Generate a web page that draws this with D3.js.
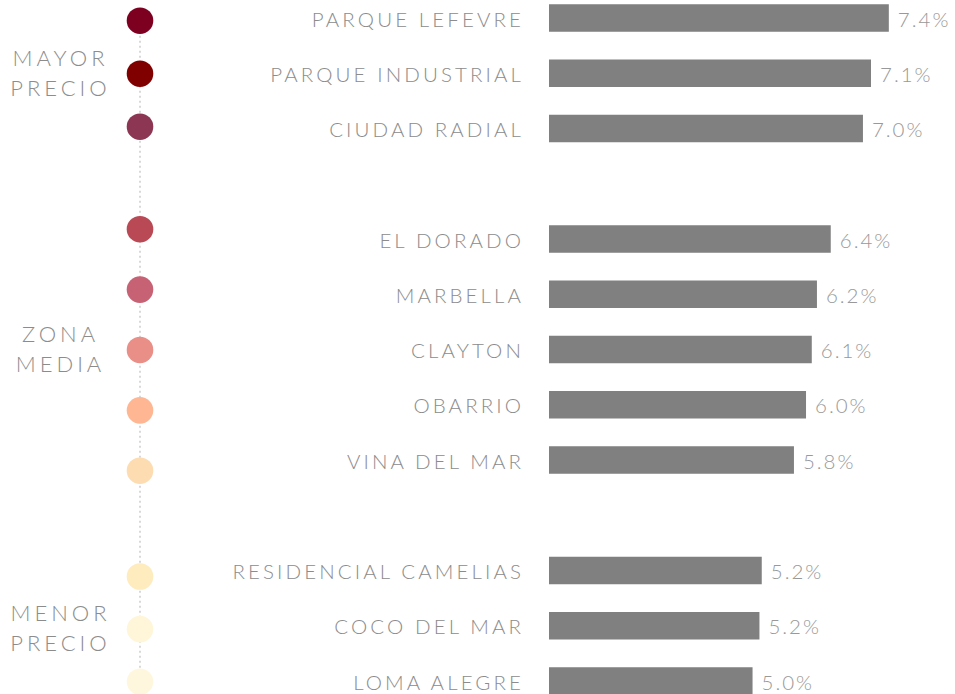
<!DOCTYPE html>
<html>
<head>
<meta charset="utf-8">
<script src="https://cdn.jsdelivr.net/npm/d3@7"></script>
<style>
  html, body { margin: 0; padding: 0; background: #fff; }
  svg { display: block; }
  text { font-family: Lato, "Open Sans", sans-serif; font-weight: 300; }
</style>
</head>
<body>
<div id="chart"></div>
<script>
var categories = [
  "PARQUE LEFEVRE",
  "PARQUE INDUSTRIAL",
  "CIUDAD RADIAL",
  "EL DORADO",
  "MARBELLA",
  "CLAYTON",
  "OBARRIO",
  "VINA DEL MAR",
  "RESIDENCIAL CAMELIAS",
  "COCO DEL MAR",
  "LOMA ALEGRE"
];
// percent (labels show one decimal)
var values = [7.41, 7.10, 6.96, 6.40, 6.16, 6.07, 5.97, 5.76, 5.20, 5.16, 5.04];
var groupOf = [0, 0, 0, 1, 1, 1, 1, 1, 2, 2, 2];
var groups = [["MAYOR", "PRECIO"], ["ZONA", "MEDIA"], ["MENOR", "PRECIO"]];

var dotColors = ["#7e0021", "#800000", "#8c3654", "#b94a55", "#c76275",
  "#e98f87", "#ffb693", "#fedcb1", "#feebbe", "#fff6d9", "#fff7dd"];

var width = 955, height = 694;
var textColor = "#8c8c8c";

var svg = d3.select("#chart").append("svg")
  .attr("width", width)
  .attr("height", height);

// slots with an empty gap between groups
var slots = [];
categories.forEach(function(c, i) {
  if (i > 0 && groupOf[i] !== groupOf[i - 1]) slots.push("gap" + i);
  slots.push(c);
});

var y = d3.scalePoint().domain(slots).range([18, 681]);
var x = d3.scaleLinear().domain([1.5, 7.5]).range([549, 894]);
var barH = 27.5;
var fmt = d3.format(".1f");

// bars
svg.selectAll("rect.bar")
  .data(categories)
  .enter().append("rect")
  .attr("class", "bar")
  .attr("x", x(1.5))
  .attr("y", function(d) { return y(d) - barH / 2; })
  .attr("width", function(d, i) { return x(values[i]) - x(1.5); })
  .attr("height", barH)
  .attr("fill", "#808080");

// category labels
svg.selectAll("text.cat")
  .data(categories)
  .enter().append("text")
  .attr("class", "cat")
  .attr("x", 524)
  .attr("y", function(d) { return y(d) + 8.5; })
  .attr("text-anchor", "end")
  .style("font-size", "20.5px")
  .style("letter-spacing", "3.1px")
  .attr("fill", textColor)
  .text(function(d) { return d; });

// value labels
svg.selectAll("text.val")
  .data(categories)
  .enter().append("text")
  .attr("class", "val")
  .attr("x", function(d, i) { return x(values[i]) + 9; })
  .attr("y", function(d) { return y(d) + 8.5; })
  .style("font-size", "20.5px")
  .style("letter-spacing", "2px")
  .attr("fill", "#999")
  .text(function(d, i) { return fmt(values[i]) + "%"; });

// dots: one point scale per group, offsets [top, bottom] from the bar rows
var spread = [[-2.7, -1.8], [9.8, 10.7], [-6, 0.7]];
var dotY = [];
groups.forEach(function(g, gi) {
  var members = categories.filter(function(c, i) { return groupOf[i] === gi; });
  var s = d3.scalePoint().domain(members)
    .range([y(members[0]) - spread[gi][0], y(members[members.length - 1]) + spread[gi][1]]);
  members.forEach(function(m) { dotY.push(s(m)); });
});

var dotX = 140;
svg.append("line")
  .attr("x1", dotX).attr("x2", dotX)
  .attr("y1", d3.min(dotY)).attr("y2", d3.max(dotY))
  .attr("stroke", "#cccccc")
  .attr("stroke-width", 1.5)
  .attr("stroke-dasharray", "2,3");

svg.selectAll("circle.dot")
  .data(categories)
  .enter().append("circle")
  .attr("class", "dot")
  .attr("cx", dotX)
  .attr("cy", function(d, i) { return dotY[i]; })
  .attr("r", 13.3)
  .attr("fill", function(d, i) { return dotColors[i]; });

// group labels, centred on each group's dots
groups.forEach(function(g, gi) {
  var ys = dotY.filter(function(v, i) { return groupOf[i] === gi; });
  var mid = (d3.min(ys) + d3.max(ys)) / 2;
  var t = svg.append("text")
    .attr("text-anchor", "middle")
    .style("font-size", "22px")
    .style("letter-spacing", "4px")
    .attr("fill", textColor);
  g.forEach(function(line, li) {
    t.append("tspan")
      .attr("x", 60.5)
      .attr("y", mid - 8 + li * 30)
      .text(line);
  });
});
</script>
</body>
</html>
